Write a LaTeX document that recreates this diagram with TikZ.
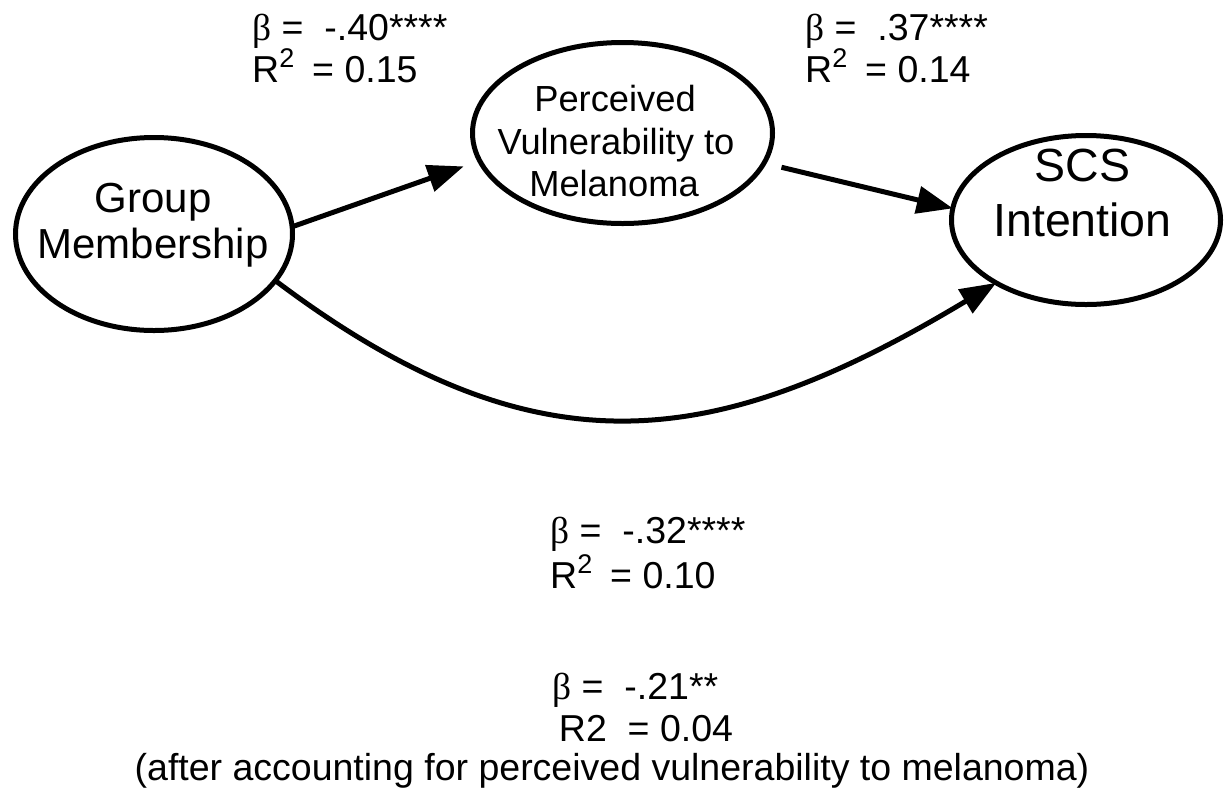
\documentclass[tikz,border=0pt]{standalone}
\usepackage{fontspec}
\setmainfont{Liberation Sans}
\newfontfamily\grk{Liberation Serif}
\usetikzlibrary{shapes.geometric,arrows.meta}
\newcommand{\sqr}{\raisebox{15pt}{\fontsize{27}{27}\selectfont 2}}
\begin{document}
\begin{tikzpicture}[x=1pt,y=-1pt,
  ell/.style={ellipse,draw,line width=5pt,inner sep=0pt,outer sep=0pt},
  arr/.style={line width=5pt,-{Triangle[length=36pt,width=27pt]}},
  lab/.style={anchor=base west,inner sep=0pt,font=\fontsize{37.5}{45}\selectfont},
  labc/.style={anchor=base,inner sep=0pt,font=\fontsize{37.5}{45}\selectfont},
  gmtxt/.style={anchor=base,inner sep=0pt,font=\fontsize{42}{48}\selectfont},
  pvtxt/.style={anchor=base,inner sep=0pt,font=\fontsize{36.3}{42}\selectfont},
  scstxt/.style={anchor=base,inner sep=0pt,font=\fontsize{46.5}{54}\selectfont}]
\useasboundingbox (0,0) rectangle (1225,788);
% ellipses
\node[ell,minimum width=277pt,minimum height=193pt] (gm) at (154,234) {};
\node[ell,minimum width=300pt,minimum height=181pt] (pv) at (622.5,133) {};
\node[ell,minimum width=269pt,minimum height=169pt] (scs) at (1086,220) {};
% ellipse texts
\node[gmtxt] (gm1) at (153,212) {Group};
\node[gmtxt] (gm2) at (153,258) {Membership};
\node[pvtxt] (pv1) at (615,111) {Perceived};
\node[pvtxt] (pv2) at (616,154) {Vulnerability to};
\node[pvtxt] (pv3) at (614,196) {Melanoma};
\node[scstxt] (scs1) at (1082.5,181) {SCS};
\node[scstxt] (scs2) at (1082.5,236) {Intention};
% connectors
\draw[arr,shorten >=17pt] (gm.3) -- (pv.191);
\draw[arr,shorten <=18pt] (pv.-12) -- (scs.175);
\draw[arr] (gm.-21) to[out=-37,in=211,looseness=1.16] (scs.215);
% labels
\node[lab] (b1) at (252,40) {{\grk β} =\ \ -.40****};
\node[lab] (r1) at (252,82) {R\sqr\hspace{0.2em} = 0.15};
\node[lab] (b2) at (805,40) {{\grk β} =\ \ .37****};
\node[lab] (r2) at (805,82) {R\sqr\hspace{0.2em} = 0.14};
\node[lab] (b3) at (550,543) {{\grk β} =\ \ -.32****};
\node[lab] (r3) at (550,588) {R\sqr\hspace{0.2em} = 0.10};
\node[lab] (b4) at (552,699) {{\grk β} =\ \ -.21**};
\node[labc] (r4) at (646,741) {R2\ \ = 0.04};
\node[labc] (n4) at (612,780) {(after accounting for perceived vulnerability to melanoma)};
\end{tikzpicture}
\end{document}
